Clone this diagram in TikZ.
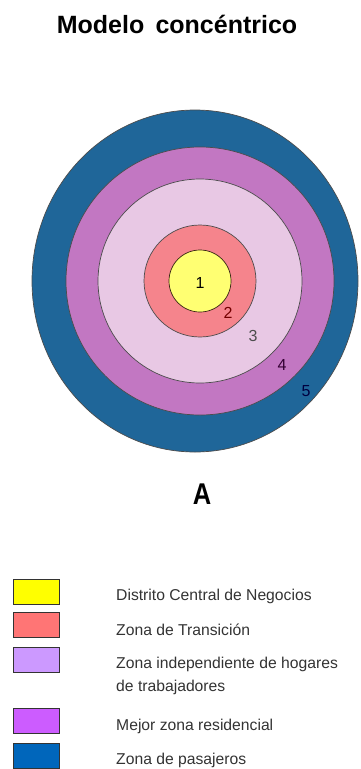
\documentclass[tikz,border=0pt]{standalone}
\usepackage{fontspec}
\setmainfont{Liberation Sans}
\usetikzlibrary{positioning}
\definecolor{ringyellow}{RGB}{255,255,114}
\definecolor{ringred}{RGB}{245,132,140}
\definecolor{ringpink}{RGB}{232,200,228}
\definecolor{ringpurple}{RGB}{194,119,194}
\definecolor{ringblue}{RGB}{31,102,153}
\definecolor{keyyellow}{RGB}{255,255,0}
\definecolor{keyred}{RGB}{255,117,117}
\definecolor{keylilac}{RGB}{204,153,255}
\definecolor{keypurple}{RGB}{204,92,255}
\definecolor{keyblue}{RGB}{0,102,187}

\begin{document}
\begin{tikzpicture}[x=1pt, y=-1pt,
        ring/.style={draw=black!70, line width=0.7pt},
        zonenum/.style={font=\fontsize{16}{16}\selectfont, inner sep=0pt},
        keybox/.style={draw=black!80, line width=1.2pt, minimum width=46pt,
                       minimum height=25pt, inner sep=0pt},
        keytext/.style={anchor=west, inner sep=0pt, align=left, text=black!80,
                        font=\fontsize{15.7}{23}\selectfont}]
    \useasboundingbox (0,0) rectangle (361,769);

    \node[font=\bfseries\fontsize{25}{25}\selectfont] (title) at (177,24)
        {Modelo\hspace{0.45em}concéntrico};

    % rings, outside in
    \filldraw[ring, fill=ringblue] (195,281) ellipse [x radius=163, y radius=171];
    \filldraw[ring, fill=ringpurple] (200,281) circle [radius=134];
    \filldraw[ring, fill=ringpink] (200,281) circle [radius=102];
    \filldraw[ring, fill=ringred] (200,281) circle [radius=56];
    \filldraw[ring, draw=black!70!brown, fill=ringyellow] (200,281) circle [radius=31];

    \node[zonenum] (n1) at (200,283) {1};
    \node[zonenum, text=red!45!black] (n2) at (228,313) {2};
    \node[zonenum, text=black!70] (n3) at (253,336) {3};
    \node[zonenum, text=violet!40!black] (n4) at (282,365) {4};
    \node[zonenum, text=blue!25!black] (n5) at (306,391) {5};

    \node[font=\bfseries\fontsize{30}{30}\selectfont, xscale=0.85] (modelA) at (202,494) {A};

    % legend
    \node[keybox, fill=keyyellow] (key1) at (36.5,592) {};
    \node[keybox, fill=keyred] (key2) at (36.5,625) {};
    \node[keybox, fill=keylilac] (key3) at (36.5,660) {};
    \node[keybox, fill=keypurple] (key4) at (36.5,721) {};
    \node[keybox, fill=keyblue] (key5) at (36.5,756) {};

    \node[keytext] (text1) at (116,596) {Distrito Central de Negocios};
    \node[keytext] (text2) at (116,630) {Zona de Transición};
    \node[keytext] (text3) at (116,675.5) {Zona independiente de hogares\\de trabajadores};
    \node[keytext] (text4) at (116,726) {Mejor zona residencial};
    \node[keytext] (text5) at (116,760) {Zona de pasajeros};
\end{tikzpicture}
\end{document}
